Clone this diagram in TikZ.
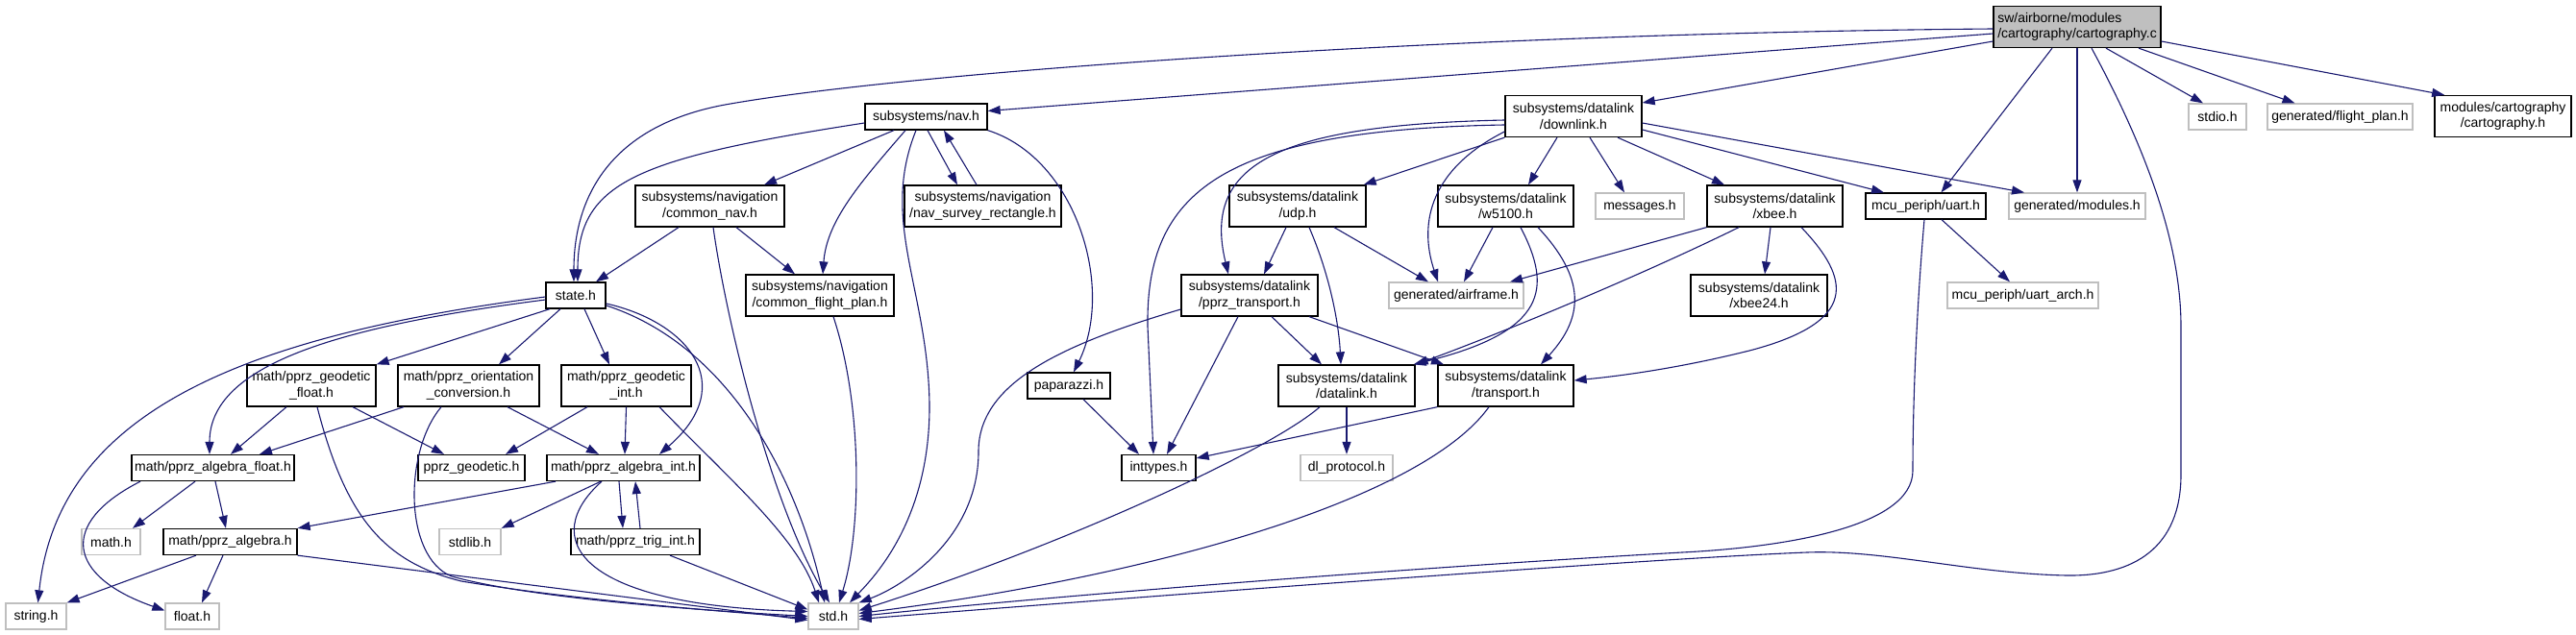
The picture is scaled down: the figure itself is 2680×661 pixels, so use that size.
\documentclass[tikz,border=0pt]{standalone}
\usepackage{fontspec}
\setmainfont{Liberation Sans}
\usetikzlibrary{arrows.meta}
\definecolor{depLine}{HTML}{191970}
\definecolor{sysLine}{HTML}{BFBFBF}
\definecolor{rootFill}{HTML}{BFBFBF}

\begin{document}
\begin{tikzpicture}[
  x=1pt, y=-1pt,
  font=\fontsize{14}{16.5}\selectfont,
  box/.style ={draw, line width=1.3pt, align=center, inner sep=2pt, minimum height=27pt},
  hdr/.style ={box, draw=black},
  sys/.style ={box, draw=sysLine},
  root/.style={box, draw=black, fill=rootFill, align=left},
  two/.style ={minimum height=43pt},
  dep/.style ={-{Triangle[length=13pt, width=9pt]}, draw=depLine, line width=1.1pt},
]
\useasboundingbox (0,0) rectangle (2680,661);

% ----- Row 0: the file itself -----
\node[root, two, minimum width=174pt] (CART) at (2161,28)
  {sw/airborne/modules\\/cartography/cartography.c};

% ----- Row 1 -----
\node[hdr, minimum width=127pt] (NAV) at (963.5,121.5) {subsystems/nav.h};
\node[hdr, two, minimum width=142pt] (DOWN) at (1637,121) {subsystems/datalink\\/downlink.h};
\node[sys, minimum width=60pt] (STDIO) at (2307,121.5) {stdio.h};
\node[sys, minimum width=151pt] (FPLAN) at (2434.5,121.5) {generated/flight\_plan.h};
\node[hdr, two, minimum width=142pt] (CARTH) at (2604,121) {modules/cartography\\/cartography.h};

% ----- Row 2 -----
\node[hdr, two, minimum width=155pt] (CNAV) at (738.5,214.5) {subsystems/navigation\\/common\_nav.h};
\node[hdr, two, minimum width=163pt] (SURV) at (1022.5,214.5) {subsystems/navigation\\/nav\_survey\_rectangle.h};
\node[hdr, two, minimum width=142pt] (UDP) at (1350,214.5) {subsystems/datalink\\/udp.h};
\node[hdr, two, minimum width=141pt] (W5100) at (1566.5,214.5) {subsystems/datalink\\/w5100.h};
\node[sys, minimum width=92pt] (MSG) at (1706,214.5) {messages.h};
\node[hdr, two, minimum width=141pt] (XBEE) at (1846.5,214.5) {subsystems/datalink\\/xbee.h};
\node[hdr, minimum width=125pt] (UART) at (2003.5,214.5) {mcu\_periph/uart.h};
\node[sys, minimum width=142pt] (MODS) at (2161,214.5) {generated/modules.h};

% ----- Row 3 -----
\node[hdr, minimum width=62pt] (STATE) at (599,307.5) {state.h};
\node[hdr, two, minimum width=154pt] (CFP) at (853,307.5) {subsystems/navigation\\/common\_flight\_plan.h};
\node[hdr, two, minimum width=142pt] (PT) at (1300,307.5) {subsystems/datalink\\/pprz\_transport.h};
\node[sys, minimum width=140pt] (AIR) at (1515,307.5) {generated/airframe.h};
\node[hdr, two, minimum width=142pt] (X24) at (1830,307.5) {subsystems/datalink\\/xbee24.h};
\node[sys, minimum width=157pt] (ARCH) at (2104.5,307.5) {mcu\_periph/uart\_arch.h};

% ----- Row 4 -----
\node[hdr, two, minimum width=134pt] (GF) at (324,401.5) {math/pprz\_geodetic\\\_float.h};
\node[hdr, two, minimum width=147pt] (OC) at (487.5,401.5) {math/pprz\_orientation\\\_conversion.h};
\node[hdr, two, minimum width=135pt] (GI) at (651.5,401.5) {math/pprz\_geodetic\\\_int.h};
\node[hdr, minimum width=86pt] (PAPA) at (1112,401.5) {paparazzi.h};
\node[hdr, two, minimum width=142pt] (DL) at (1401,401.5) {subsystems/datalink\\/datalink.h};
\node[hdr, two, minimum width=141pt] (TR) at (1566.5,401.5) {subsystems/datalink\\/transport.h};

% ----- Row 5 -----
\node[hdr, minimum width=169pt] (AF) at (221.5,487) {math/pprz\_algebra\_float.h};
\node[hdr, minimum width=111pt] (PG) at (490.5,487) {pprz\_geodetic.h};
\node[hdr, minimum width=159pt] (AI) at (648.5,487) {math/pprz\_algebra\_int.h};
\node[hdr, minimum width=77pt] (INT) at (1205.5,487) {inttypes.h};
\node[sys, minimum width=96pt] (DLP) at (1401,487) {dl\_protocol.h};

% ----- Row 6 -----
\node[sys, minimum width=61pt] (MATH) at (115.5,564) {math.h};
\node[hdr, minimum width=139pt] (PA) at (239.5,564) {math/pprz\_algebra.h};
\node[sys, minimum width=64pt] (STDLIB) at (489,564) {stdlib.h};
\node[hdr, minimum width=134pt] (TI) at (661,564) {math/pprz\_trig\_int.h};

% ----- Row 7 -----
\node[sys, minimum width=63pt] (STRING) at (37.5,641.5) {string.h};
\node[sys, minimum width=56pt] (FLOAT) at (200,641.5) {float.h};
\node[sys, minimum width=52pt] (STD) at (867,641.5) {std.h};

% ----- Edges from the root -----
\draw[dep] ([yshift=-2pt]CART.west) .. controls (1500,35) and (950,75) .. (760,108)
  .. controls (640,128) and (597,200) .. ([xshift=-2pt]STATE.north);
\draw[dep] ([yshift=-7pt]CART.west) -- ([yshift=6pt]NAV.east);
\draw[dep] ([yshift=-15pt]CART.west) -- ([yshift=14pt]DOWN.east);
\draw[dep] ([xshift=-26pt]CART.south) -- ([xshift=16pt]UART.north);
\draw[dep] (CART.south) -- (MODS.north);
\draw[dep] ([xshift=15pt]CART.south) .. controls (2230,150) and (2269,250) .. (2269,340)
  -- (2269,494) .. controls (2269,570) and (2220,600) .. (2150,599)
  .. controls (2050,597) and (1960,572) .. (1880,575)
  .. controls (1700,582) and (1100,628) .. ([yshift=-3pt]STD.east);
\draw[dep] ([xshift=30pt]CART.south) -- ([xshift=-15pt]STDIO.north);
\draw[dep] ([xshift=64pt]CART.south) -- ([xshift=-47pt]FPLAN.north);
\draw[dep] ([yshift=-15pt]CART.east) -- (CARTH.160);

% ----- nav.h -----
\draw[dep] ([yshift=-6.5pt]NAV.west) .. controls (660,165) and (601,190) .. ([xshift=2pt]STATE.north);
\draw[dep] ([xshift=-33.5pt]NAV.south) -- ([xshift=56.5pt]CNAV.north);
\draw[dep] ([xshift=-21.5pt]NAV.south) .. controls (895,190) and (860,230) .. ([xshift=3pt]CFP.north);
\draw[dep] ([xshift=1.5pt]NAV.south) -- ([xshift=-26.5pt]SURV.north);
\draw[dep] ([xshift=-6.5pt]SURV.north) -- ([xshift=18.5pt]NAV.south);
\draw[dep] ([xshift=-10.5pt]NAV.south) .. controls (915,230) and (965,300) .. (967,420)
  .. controls (968,540) and (910,600) .. ([xshift=17pt]STD.north);
\draw[dep] (NAV.south east) .. controls (1120,165) and (1160,300) .. ([xshift=5pt]PAPA.north);

% ----- downlink.h -----
\draw[dep] ([yshift=-4pt]DOWN.west) .. controls (1330,130) and (1250,170) .. ([xshift=-22pt]PT.north);
\draw[dep] ([yshift=-9pt]DOWN.west) .. controls (1270,135) and (1192,200) .. (1194,340)
  -- ([xshift=-5.5pt]INT.north);
\draw[dep] (DOWN.south west) -- ([xshift=-3pt]UDP.north east);
\draw[dep] ([yshift=-16pt]DOWN.west) .. controls (1490,175) and (1475,230) .. ([xshift=-19pt]AIR.north);
\draw[dep] ([xshift=-17pt]DOWN.south) -- ([xshift=23.5pt]W5100.north);
\draw[dep] ([xshift=17pt]DOWN.south) -- ([xshift=-16pt]MSG.north);
\draw[dep] ([xshift=46pt]DOWN.south) -- ([xshift=-52.5pt]XBEE.north);
\draw[dep] ([yshift=-14pt]DOWN.east) -- ([xshift=-43.5pt]UART.north);
\draw[dep] ([yshift=-7pt]DOWN.east) -- ([xshift=-55pt]MODS.north);

% ----- udp.h, w5100.h, xbee.h -----
\draw[dep] ([xshift=-12pt]UDP.south) -- ([xshift=15pt]PT.north);
\draw[dep] ([xshift=38pt]UDP.south) -- ([xshift=-29pt]AIR.north);
\draw[dep] ([xshift=12pt]UDP.south) .. controls (1385,290) and (1393,340) .. ([xshift=-6pt]DL.north);
\draw[dep] ([xshift=-13.5pt]W5100.south) -- ([xshift=8pt]AIR.north);
\draw[dep] ([xshift=15.5pt]W5100.south) .. controls (1615,300) and (1610,345) .. ([xshift=-2pt]DL.north east);
\draw[dep] ([xshift=33.5pt]W5100.south) .. controls (1650,290) and (1648,330) .. ([xshift=36.5pt]TR.north);
\draw[dep] (XBEE.south west) -- ([xshift=56pt]AIR.north);
\draw[dep] ([xshift=-37.5pt]XBEE.south) .. controls (1690,295) and (1540,355) .. (DL.north east);
\draw[dep] ([xshift=-4.5pt]XBEE.south) -- ([xshift=6pt]X24.north);
\draw[dep] ([xshift=27.5pt]XBEE.south) .. controls (1925,290) and (1935,335) .. (1820,365)
  .. controls (1760,380) and (1700,390) .. ([yshift=5.5pt]TR.east);

% ----- uart.h -----
\draw[dep] ([xshift=16.5pt]UART.south) -- ([xshift=-13.5pt]ARCH.north);
\draw[dep] ([xshift=-1.5pt]UART.south) .. controls (1994,320) and (1990,420) .. (1990,490)
  .. controls (1990,550) and (1850,570) .. (1750,575)
  .. controls (1400,595) and (1050,625) .. (STD.east);

% ----- pprz_transport.h -----
\draw[dep] ([yshift=-14.5pt]PT.west) .. controls (1100,360) and (1018,400) .. (1018,470)
  .. controls (1018,560) and (940,610) .. (STD.north east);
\draw[dep] ([xshift=-12pt]PT.south) -- ([xshift=8.5pt]INT.north);
\draw[dep] ([xshift=23pt]PT.south) -- ([xshift=-26pt]DL.north);
\draw[dep] ([xshift=62pt]PT.south) -- ([xshift=-64.5pt]TR.north);

% ----- navigation -----
\draw[dep] ([xshift=-32.5pt]CNAV.south) -- ([xshift=21pt]STATE.north);
\draw[dep] ([xshift=27.5pt]CNAV.south) -- ([xshift=-26pt]CFP.north);
\draw[dep] ([xshift=3.5pt]CNAV.south) .. controls (755,330) and (800,520) .. ([xshift=-4pt]STD.north);
\draw[dep] ([xshift=14pt]CFP.south) .. controls (897,420) and (897,550) .. ([xshift=6pt]STD.north);

% ----- state.h -----
\draw[dep] ([yshift=-1.5pt]STATE.west) .. controls (250,350) and (60,430) .. ([xshift=2pt]STRING.north);
\draw[dep] ([yshift=-4.5pt]STATE.west) .. controls (350,340) and (218,380) .. ([xshift=-3.5pt]AF.north);
\draw[dep] ([xshift=-27pt]STATE.south) -- (GF.north east);
\draw[dep] ([xshift=-16pt]STATE.south) -- ([xshift=31.5pt]OC.north);
\draw[dep] ([xshift=9pt]STATE.south) -- ([xshift=-17.5pt]GI.north);
\draw[dep] ([yshift=-8.5pt]STATE.east) .. controls (715,335) and (770,400) .. ([xshift=37.5pt]AI.north);
\draw[dep] ([yshift=-10.5pt]STATE.east) .. controls (760,360) and (830,500) .. ([xshift=-9pt]STD.north);

% ----- geodetic / orientation -----
\draw[dep] ([xshift=-26pt]GF.south) -- ([xshift=18.5pt]AF.north);
\draw[dep] ([xshift=43pt]GF.south) -- ([xshift=-28.5pt]PG.north);
\draw[dep] ([xshift=6pt]GF.south) .. controls (360,540) and (400,585) .. (480,605)
  .. controls (600,625) and (760,637) .. ([yshift=-2pt]STD.west);
\draw[dep] ([xshift=-67.5pt]OC.south) -- ([xshift=48.5pt]AF.north);
\draw[dep] ([xshift=-28.5pt]OC.south) .. controls (420,470) and (420,580) .. (470,600)
  .. controls (560,625) and (760,637) .. (STD.west);
\draw[dep] ([xshift=40.5pt]OC.south) -- ([xshift=-25.5pt]AI.north);
\draw[dep] ([xshift=-40.5pt]GI.south) -- ([xshift=35.5pt]PG.north);
\draw[dep] (GI.south) -- ([xshift=1.5pt]AI.north);
\draw[dep] ([xshift=34.5pt]GI.south) .. controls (760,500) and (830,560) .. ([xshift=-15pt]STD.north);

% ----- algebra -----
\draw[dep] ([xshift=-75.5pt]AF.south) .. controls (60,545) and (70,600) .. ([yshift=6pt]FLOAT.west);
\draw[dep] ([xshift=-18.5pt]AF.south) -- ([xshift=22.5pt]MATH.north);
\draw[dep] ([xshift=2.5pt]AF.south) -- ([xshift=-4.5pt]PA.north);
\draw[dep] ([xshift=-70.5pt]AI.south) -- (PA.north east);
\draw[dep] ([xshift=-23.5pt]AI.south) -- (STDLIB.north east);
\draw[dep] ([xshift=-22.5pt]AI.south) .. controls (560,560) and (600,630) .. ([yshift=5pt]STD.west);
\draw[dep] ([xshift=-4.5pt]AI.south) -- ([xshift=-13pt]TI.north);
\draw[dep] ([xshift=5pt]TI.north) -- ([xshift=12.5pt]AI.south);
\draw[dep] ([xshift=36pt]TI.south) -- ([yshift=7pt]STD.west);
\draw[dep] ([xshift=-35.5pt]PA.south) -- (STRING.north east);
\draw[dep] ([xshift=-7.5pt]PA.south) -- ([xshift=10pt]FLOAT.north);
\draw[dep] (PA.south east) -- ([yshift=-4pt]STD.west);

% ----- datalink side -----
\draw[dep] ([xshift=15pt]PAPA.south) -- ([xshift=-20.5pt]INT.north);
\draw[dep] (DL.south) -- (DLP.north);
\draw[dep] ([xshift=-28pt]DL.south) .. controls (1320,470) and (1100,570) .. ([yshift=6pt]STD.east);
\draw[dep] (TR.south west) -- ([yshift=10pt]INT.east);
\draw[dep] ([xshift=-17.5pt]TR.south) .. controls (1480,520) and (1200,600) .. ([yshift=3pt]STD.east);

\end{tikzpicture}
\end{document}
